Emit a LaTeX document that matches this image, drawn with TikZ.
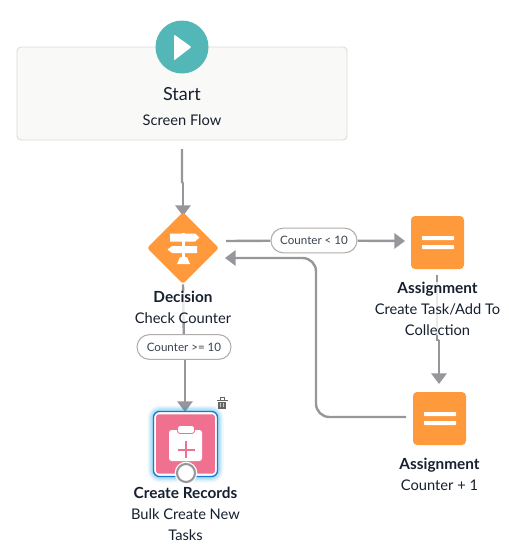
\documentclass[tikz,border=0pt]{standalone}
\usepackage{fontspec}
\setmainfont{Lato}
\usetikzlibrary{arrows.meta, positioning, shapes.misc, shapes.geometric, backgrounds}

\definecolor{tealstart}{HTML}{54B7B7}
\definecolor{orangeflow}{HTML}{FF9A3C}
\definecolor{pinkrec}{HTML}{F0708F}
\definecolor{greyline}{HTML}{97969B}
\definecolor{greypill}{HTML}{B0ADAB}
\definecolor{inktext}{HTML}{16202E}
\definecolor{bluesel}{HTML}{1B78D0}
\definecolor{startfill}{HTML}{F9F9F7}
\definecolor{startedge}{HTML}{DDDBDA}

\begin{document}
\begin{tikzpicture}[
  x=0.75pt, y=-0.75pt,
  font=\fontsize{11pt}{15.75pt}\selectfont,
  text=inktext,
  startbox/.style={
    draw=startedge,
    line width=0.7pt,
    rounded corners=3pt,
    fill=startfill,
    minimum width=247.5pt,
    minimum height=69.75pt
  },
  squarebox/.style={
    fill=orangeflow,
    rounded corners=3pt,
    minimum size=39.75pt,
    inner sep=0pt
  },
  decisionbox/.style={
    diamond,
    fill=orangeflow,
    rounded corners=2pt,
    minimum size=54pt,
    inner sep=0pt
  },
  legend/.style={
    align=center,
    inner sep=0pt,
    fill=white,
    fill opacity=0.8,
    text opacity=1
  },
  pill/.style={
    draw=greypill,
    line width=0.8pt,
    fill=white,
    rounded rectangle,
    minimum height=18.5pt,
    inner sep=0pt,
    font=\fontsize{8.7pt}{11pt}\selectfont,
    text=inktext!85
  },
  link/.style={
    line width=1.8pt,
    draw=greyline
  },
  fleche/.style={
    link,
    -{Triangle[length=8pt, width=11.5pt]}
  },
  bar/.style={
    fill=white,
    rounded corners=0.5pt
  }
]
  \useasboundingbox (0,0) rectangle (508,554);

  % Start
  \node[startbox] (start) at (182,93.5) {};
  \node[circle, fill=tealstart, minimum size=39.75pt, inner sep=0pt] (play) at (182,47) {};
  \fill[white, rounded corners=0.8pt] (174,34.5) -- (191.5,47) -- (174,60.5) -- cycle;
  \node[font=\fontsize{13.5pt}{16pt}\selectfont] (starttitle) at (182,94) {Start};
  \node (startsub) at (182,120) {Screen Flow};

  % Decision and assignments
  \node[decisionbox] (dec) at (183,248) {};
  \node[squarebox] (as1) at (437.5,242.5) {};
  \node[squarebox] (as2) at (439.5,418.5) {};

  % Signpost
  \fill[white] (181.5,233) rectangle (184.5,262);
  \fill[white] (170,233.5) -- (195,233.5) -- (199.5,237.5) -- (195,241.5) -- (170,241.5) -- cycle;
  \fill[white] (197,246) -- (172,246) -- (167.5,249.5) -- (172,253) -- (197,253) -- cycle;
  \fill[white] (180,257) -- (187,257) -- (190,264) -- (177,264) -- cycle;

  % Bars of the assignments
  \foreach \n in {as1, as2} {
    \fill[bar] ([shift={(-15.5,-6.5)}]\n.center) rectangle ([shift={(16.5,-2.5)}]\n.center);
    \fill[bar] ([shift={(-15.5,2.5)}]\n.center) rectangle ([shift={(16.5,6.5)}]\n.center);
  }

  % Create Records, selected
  \foreach \w/\o in {9/0.07, 7/0.09, 5/0.12, 3/0.16} {
    \draw[line width=\w pt, draw=bluesel!70!cyan, opacity=\o, rounded corners=5pt] (153.5,411.5) rectangle (217.5,476.5);
  }
  \node[draw=bluesel, line width=1pt, fill=white, rounded corners=4.5pt,
        minimum width=48pt, minimum height=48.75pt, inner sep=0pt] (recout) at (185.5,444) {};
  \node[fill=pinkrec, rounded corners=2pt, minimum width=44pt, minimum height=44.5pt, inner sep=0pt] (rec) at (185.5,444) {};
  \fill[white, rounded corners=2pt] (169,430) rectangle (202,461);
  \fill[white, rounded corners=2pt, draw=pinkrec, line width=0.6pt] (177.5,425.5) rectangle (194.5,433.5);
  \fill[pinkrec] (177.5,448.5) rectangle (194.5,450.5);
  \fill[pinkrec] (185.2,440.5) rectangle (187.2,458);
  \node[circle, fill=white, minimum size=17pt, inner sep=0pt] (recring) at (186,473) {};
  \node[circle, draw=greyline, line width=1.6pt, fill=white, minimum size=13.5pt, inner sep=0pt] (recknob) at (186,473) {};

  % Trash
  \fill[black!60] (217,399.5) rectangle (227.5,401);
  \draw[black!60, line width=0.7pt] (220,399.5) -- (220,397.7) -- (224.5,397.7) -- (224.5,399.5);
  \fill[black!60] (218.3,402) rectangle (226.2,408.5);
  \foreach \x in {220.4, 223.1} {
    \fill[black!20] (\x,403.2) rectangle (\x+0.9,407.3);
  }

  % Pills
  \node[pill, minimum width=64.5pt] (pillless) at (314,240.5) {Counter < 10};
  \node[pill, minimum width=70.5pt] (pillmore) at (184,347) {Counter >= 10};

  % Legends
  \node[legend, below=4.8pt of dec] (declabel) {\textbf{\fontsize{11.5pt}{15.75pt}\selectfont Decision}\\Check Counter};
  \node[legend, below=9.3pt of as1] (as1label) {\textbf{\fontsize{11.5pt}{15.75pt}\selectfont Assignment}\\Create Task/Add To\\Collection};
  \node[legend, below=9.5pt of as2] (as2label) {\textbf{\fontsize{11.5pt}{15.75pt}\selectfont Assignment}\\Counter + 1};
  \node[legend, below=7.3pt of recout] (reclabel) {\textbf{\fontsize{11.5pt}{15.75pt}\selectfont Create Records}\\Bulk Create New\\Tasks};

  % Free ends of the connectors
  \coordinate (startout) at (182,149);
  \coordinate (kneea) at (182,182);
  \coordinate (kneeb) at (183,183);
  \coordinate (decin) at (183,216);
  \coordinate (decout) at (226,241);
  \coordinate (decback) at (225,258);
  \coordinate (as1in) at (405,241);
  \coordinate (as1out) at (437,275);
  \coordinate (as1low) at (439,340);
  \coordinate (as2in) at (439,384);
  \coordinate (as2out) at (406,417);
  \coordinate (recin) at (185,412);

  \begin{scope}[on background layer]
    \draw[link] (startout) -- (kneea) -- (kneeb);
    \draw[fleche] (kneeb) -- (decin);
    \draw[link] (dec.south) -- (pillmore);
    \draw[fleche] ([xshift=0.75pt]pillmore.south) -- (recin);
    \draw[link] (decout) -- (pillless);
    \draw[fleche] (pillless) -- (as1in);
    \draw[link] (as1out) -- (437,340) -- (as1low);
    \draw[fleche] (as1low) -- (as2in);
    \draw[fleche, rounded corners=10pt] (as2out) -| (316,258) -- (decback);
  \end{scope}
\end{tikzpicture}
\end{document}
